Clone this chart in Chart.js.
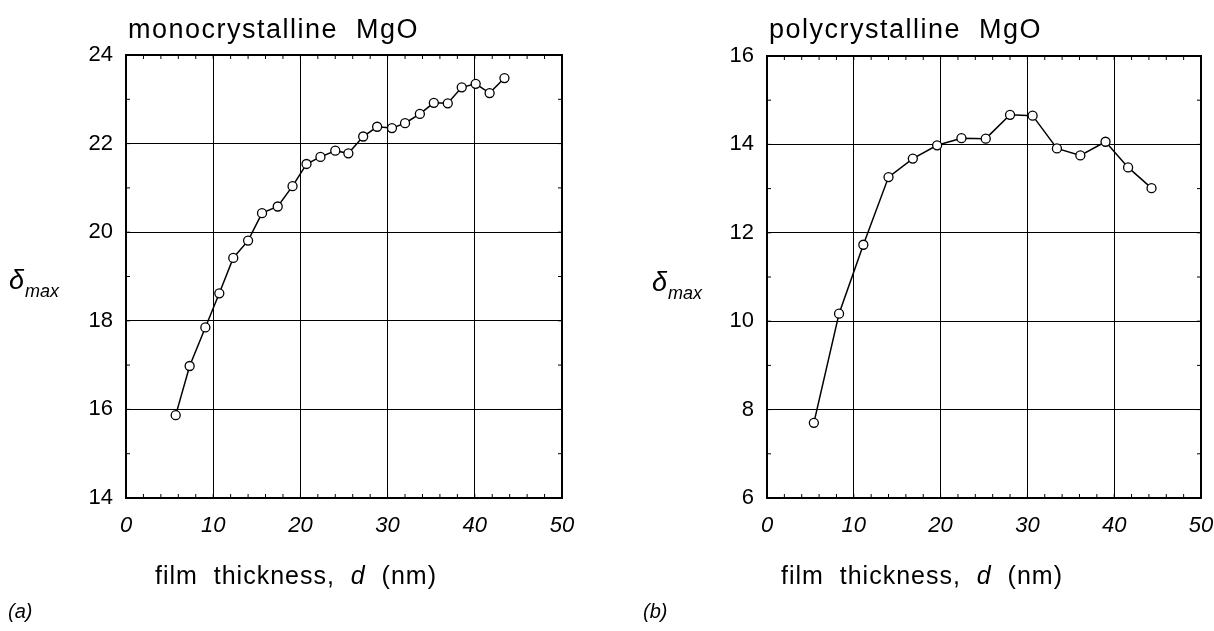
<!DOCTYPE html>
<html>
<head>
<meta charset="utf-8">
<script src="https://cdn.jsdelivr.net/npm/chart.js@4.4.1/dist/chart.umd.min.js"></script>
<style>
  body { margin: 0; background: #fff; }
  #wrap { position: relative; width: 1214px; height: 631px; }
  canvas { position: absolute; top: 0; }
</style>
</head>
<body>
<div id="wrap">
  <canvas id="chartA" width="607" height="631" style="left:0"></canvas>
  <canvas id="chartB" width="607" height="631" style="left:607px"></canvas>
</div>
<script>
// film thickness d (nm) and delta_max
var monoThickness = [5.7, 7.3, 9.1, 10.7, 12.3, 14.0, 15.6, 17.4, 19.1, 20.7, 22.3, 24.0,
                     25.5, 27.2, 28.8, 30.5, 32.0, 33.7, 35.3, 36.9, 38.5, 40.1, 41.7, 43.4];
var monoDelta = [15.87, 16.98, 17.85, 18.62, 19.42, 19.81, 20.43, 20.58, 21.04, 21.54, 21.70, 21.84,
                 21.78, 22.16, 22.38, 22.35, 22.46, 22.67, 22.92, 22.91, 23.27, 23.35, 23.14, 23.48];

var polyThickness = [5.4, 8.3, 11.1, 14.0, 16.8, 19.6, 22.4, 25.2, 28.0, 30.6, 33.4, 36.1, 39.0, 41.6, 44.3];
var polyDelta = [7.70, 10.17, 11.73, 13.26, 13.68, 13.98, 14.14, 14.13, 14.67, 14.65, 13.91, 13.75, 14.06, 13.48, 13.01];

var xRange = [0, 50];
var monoRange = [14, 24];
var polyRange = [6, 16];

var FONT = '"Liberation Sans", Arial, sans-serif';

function toPoints(xs, ys) {
  var pts = [];
  for (var i = 0; i < xs.length; i++) {
    pts.push({x: xs[i], y: ys[i]});
  }
  return pts;
}

// frame, inward minor ticks and the hand-placed labels
var framePlugin = {
  id: 'frame',
  afterDraw: function(chart, args, opts) {
    var ctx = chart.ctx, a = chart.chartArea;
    var xs = chart.scales.x, ys = chart.scales.y;
    var v, px;
    ctx.save();
    ctx.strokeStyle = '#000';
    ctx.lineWidth = 1;
    ctx.beginPath();
    for (v = xs.min; v <= xs.max; v += 2) {
      px = xs.getPixelForValue(v);
      ctx.moveTo(px, a.bottom); ctx.lineTo(px, a.bottom - 4);
      ctx.moveTo(px, a.top); ctx.lineTo(px, a.top + 4);
    }
    for (v = ys.min; v <= ys.max; v += 1) {
      px = ys.getPixelForValue(v);
      ctx.moveTo(a.left, px); ctx.lineTo(a.left + 4, px);
      ctx.moveTo(a.right, px); ctx.lineTo(a.right - 4, px);
    }
    ctx.stroke();
    ctx.lineWidth = 2;
    ctx.strokeRect(a.left, a.top, a.width, a.height);

    ctx.fillStyle = '#000';
    ctx.textBaseline = 'alphabetic';
    ctx.textAlign = 'left';
    // panel title
    ctx.letterSpacing = '1.5px';
    ctx.font = '27px ' + FONT;
    ctx.fillText(opts.title, a.left + 2, 38);
    // x axis title with italic d
    ctx.letterSpacing = '1px';
    var p1 = 'film  thickness,  ', p2 = 'd', p3 = '  (nm)';
    ctx.font = '25px ' + FONT;
    var w1 = ctx.measureText(p1).width, w3 = ctx.measureText(p3).width;
    ctx.font = 'italic 25px ' + FONT;
    var w2 = ctx.measureText(p2).width;
    var sx = opts.xTitleCenter - (w1 + w2 + w3) / 2;
    ctx.font = '25px ' + FONT;
    ctx.fillText(p1, sx, 584);
    ctx.font = 'italic 25px ' + FONT;
    ctx.fillText(p2, sx + w1, 584);
    ctx.font = '25px ' + FONT;
    ctx.fillText(p3, sx + w1 + w2, 584);
    ctx.letterSpacing = '0px';
    // delta_max
    ctx.font = 'italic 27px ' + FONT;
    ctx.fillText('\u03b4', opts.deltaX, opts.deltaY);
    var dw = ctx.measureText('\u03b4').width;
    ctx.font = 'italic 18px ' + FONT;
    ctx.fillText('max', opts.deltaX + dw + 1, opts.deltaY + 8);
    // panel letter
    ctx.font = 'italic 20px ' + FONT;
    ctx.fillText(opts.panel, opts.panelX, 618);
    ctx.restore();
  }
};

function makeChart(canvasId, xs, ys, yRange, yWidth, padRight, padTop, labels) {
  return new Chart(document.getElementById(canvasId), {
    type: 'line',
    data: {
      datasets: [{
        data: toPoints(xs, ys),
        borderColor: '#000',
        borderWidth: 1.5,
        tension: 0,
        pointRadius: 4.5,
        pointBackgroundColor: '#fff',
        pointBorderColor: '#000',
        pointBorderWidth: 1.3
      }]
    },
    options: {
      responsive: false,
      animation: false,
      layout: { padding: { left: 0, right: padRight, top: padTop, bottom: 0 } },
      plugins: {
        legend: { display: false },
        tooltip: { enabled: false },
        frame: labels
      },
      scales: {
        x: {
          type: 'linear',
          min: xRange[0],
          max: xRange[1],
          afterFit: function(scale) {
            scale.height = 133;
            scale.paddingLeft = 0;
            scale.paddingRight = 0;
          },
          grid: { color: '#000', lineWidth: 1, drawTicks: false },
          border: { color: '#000', width: 2 },
          ticks: {
            stepSize: 10,
            padding: 15,
            color: '#000',
            maxRotation: 0,
            font: { family: FONT, size: 22, style: 'italic' }
          }
        },
        y: {
          min: yRange[0],
          max: yRange[1],
          afterFit: function(scale) {
            scale.width = yWidth;
            scale.paddingTop = 0;
            scale.paddingBottom = 0;
          },
          grid: { color: '#000', lineWidth: 1, drawTicks: false },
          border: { color: '#000', width: 2 },
          ticks: {
            stepSize: 2,
            padding: 13,
            color: '#000',
            font: { family: FONT, size: 22 }
          }
        }
      }
    },
    plugins: [framePlugin]
  });
}

makeChart('chartA', monoThickness, monoDelta, monoRange, 126, 45, 55, {
  title: 'monocrystalline  MgO', panel: '(a)', panelX: 8,
  xTitleCenter: 296, deltaX: 9, deltaY: 289
});
makeChart('chartB', polyThickness, polyDelta, polyRange, 160, 13, 56, {
  title: 'polycrystalline  MgO', panel: '(b)', panelX: 36,
  xTitleCenter: 315, deltaX: 45, deltaY: 291
});
</script>
</body>
</html>
